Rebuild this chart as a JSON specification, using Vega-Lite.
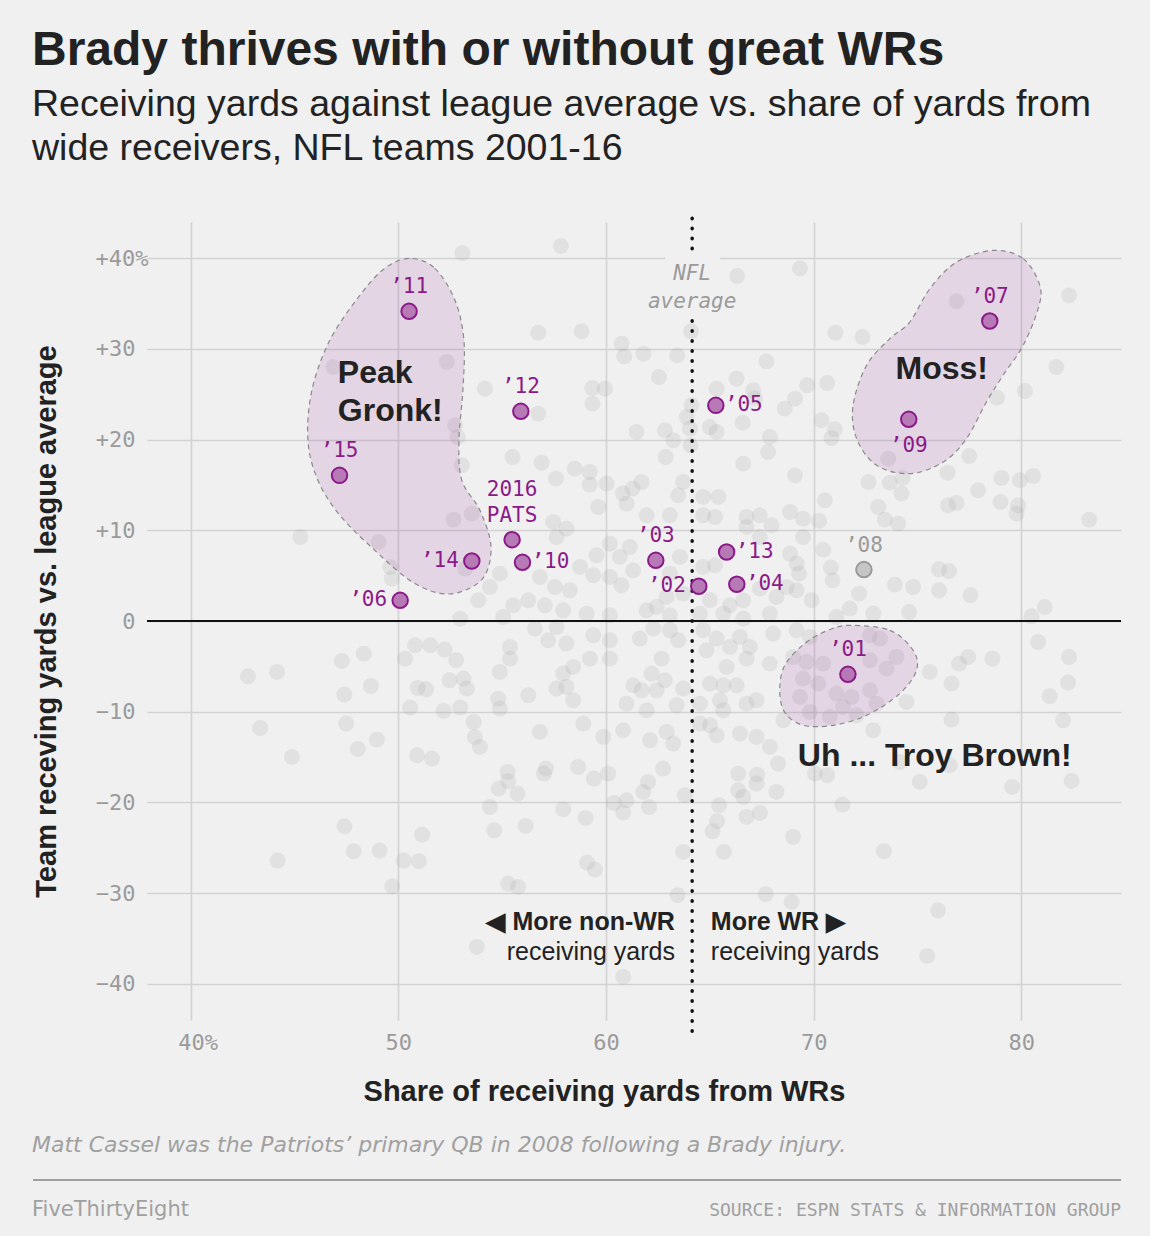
{
  "$schema": "https://vega.github.io/schema/vega-lite/v6.json",
  "background": "#f0f0f0",
  "autosize": {"type": "none"},
  "padding": {"left": 147, "top": 222, "right": 29, "bottom": 216},
  "width": 974,
  "height": 798,
  "config": {
    "view": {"stroke": null},
    "font": "Liberation Sans"
  },
  "title": {
    "text": "Brady thrives with or without great WRs",
    "subtitle": ["Receiving yards against league average vs. share of yards from", "wide receivers, NFL teams 2001-16"],
    "anchor": "start",
    "frame": "bounds",
    "font": "Liberation Sans",
    "fontSize": 48,
    "fontWeight": "bold",
    "color": "#222222",
    "subtitleFont": "Liberation Sans",
    "subtitleFontSize": 37.5,
    "subtitleColor": "#222222",
    "subtitlePadding": 11,
    "subtitleLineHeight": 44,
    "offset": 49
  },
  "datasets": {
    "pats": [
      {"season": 2001, "label": "’01", "share": 71.65, "diff": -5.88},
      {"season": 2002, "label": "’02", "share": 64.47, "diff": 3.83},
      {"season": 2003, "label": "’03", "share": 62.40, "diff": 6.69},
      {"season": 2004, "label": "’04", "share": 66.30, "diff": 4.05},
      {"season": 2005, "label": "’05", "share": 65.29, "diff": 23.78},
      {"season": 2006, "label": "’06", "share": 50.09, "diff": 2.28},
      {"season": 2007, "label": "’07", "share": 78.48, "diff": 33.08},
      {"season": 2008, "label": "’08", "share": 72.42, "diff": 5.67},
      {"season": 2009, "label": "’09", "share": 74.58, "diff": 22.24},
      {"season": 2010, "label": "’10", "share": 55.98, "diff": 6.47},
      {"season": 2011, "label": "’11", "share": 50.52, "diff": 34.15},
      {"season": 2012, "label": "’12", "share": 55.90, "diff": 23.12},
      {"season": 2013, "label": "’13", "share": 65.81, "diff": 7.61},
      {"season": 2014, "label": "’14", "share": 53.54, "diff": 6.62},
      {"season": 2015, "label": "’15", "share": 47.17, "diff": 16.06},
      {"season": 2016, "label": "2016 PATS", "share": 55.48, "diff": 8.97}
    ],
    "blobs": [
      {"blob": "gronk", "i": 1, "share": 50.56, "diff": 39.99},
      {"blob": "gronk", "i": 2, "share": 51.76, "diff": 38.89},
      {"blob": "gronk", "i": 3, "share": 52.73, "diff": 35.36},
      {"blob": "gronk", "i": 4, "share": 53.16, "diff": 30.95},
      {"blob": "gronk", "i": 5, "share": 53.11, "diff": 25.44},
      {"blob": "gronk", "i": 6, "share": 52.92, "diff": 19.92},
      {"blob": "gronk", "i": 7, "share": 53.06, "diff": 15.51},
      {"blob": "gronk", "i": 8, "share": 53.93, "diff": 12.21},
      {"blob": "gronk", "i": 9, "share": 54.46, "diff": 8.35},
      {"blob": "gronk", "i": 10, "share": 54.17, "diff": 5.04},
      {"blob": "gronk", "i": 11, "share": 53.21, "diff": 3.38},
      {"blob": "gronk", "i": 12, "share": 52.00, "diff": 3.05},
      {"blob": "gronk", "i": 13, "share": 50.56, "diff": 4.48},
      {"blob": "gronk", "i": 14, "share": 48.87, "diff": 7.79},
      {"blob": "gronk", "i": 15, "share": 47.19, "diff": 11.65},
      {"blob": "gronk", "i": 16, "share": 46.13, "diff": 15.51},
      {"blob": "gronk", "i": 17, "share": 45.65, "diff": 19.92},
      {"blob": "gronk", "i": 18, "share": 45.84, "diff": 25.44},
      {"blob": "gronk", "i": 19, "share": 46.70, "diff": 30.95},
      {"blob": "gronk", "i": 20, "share": 48.15, "diff": 35.91},
      {"blob": "gronk", "i": 21, "share": 49.35, "diff": 38.89},
      {"blob": "moss", "i": 1, "share": 78.64, "diff": 40.87},
      {"blob": "moss", "i": 2, "share": 80.09, "diff": 39.96},
      {"blob": "moss", "i": 3, "share": 80.89, "diff": 37.02},
      {"blob": "moss", "i": 4, "share": 80.81, "diff": 34.44},
      {"blob": "moss", "i": 5, "share": 80.09, "diff": 30.40},
      {"blob": "moss", "i": 6, "share": 79.12, "diff": 27.09},
      {"blob": "moss", "i": 7, "share": 78.32, "diff": 24.15},
      {"blob": "moss", "i": 8, "share": 77.36, "diff": 20.11},
      {"blob": "moss", "i": 9, "share": 76.24, "diff": 17.53},
      {"blob": "moss", "i": 10, "share": 74.63, "diff": 16.25},
      {"blob": "moss", "i": 11, "share": 73.03, "diff": 17.17},
      {"blob": "moss", "i": 12, "share": 72.07, "diff": 20.11},
      {"blob": "moss", "i": 13, "share": 71.90, "diff": 23.78},
      {"blob": "moss", "i": 14, "share": 72.55, "diff": 28.19},
      {"blob": "moss", "i": 15, "share": 73.67, "diff": 31.14},
      {"blob": "moss", "i": 16, "share": 74.63, "diff": 32.97},
      {"blob": "moss", "i": 17, "share": 75.60, "diff": 36.65},
      {"blob": "moss", "i": 18, "share": 76.88, "diff": 39.58},
      {"blob": "troy", "i": 1, "share": 71.74, "diff": -0.48},
      {"blob": "troy", "i": 2, "share": 73.67, "diff": -1.03},
      {"blob": "troy", "i": 3, "share": 74.79, "diff": -3.24},
      {"blob": "troy", "i": 4, "share": 74.95, "diff": -5.44},
      {"blob": "troy", "i": 5, "share": 74.15, "diff": -8.00},
      {"blob": "troy", "i": 6, "share": 72.55, "diff": -10.40},
      {"blob": "troy", "i": 7, "share": 70.94, "diff": -11.50},
      {"blob": "troy", "i": 8, "share": 69.49, "diff": -11.50},
      {"blob": "troy", "i": 9, "share": 68.61, "diff": -10.07},
      {"blob": "troy", "i": 10, "share": 68.37, "diff": -7.64},
      {"blob": "troy", "i": 11, "share": 68.61, "diff": -4.88},
      {"blob": "troy", "i": 12, "share": 69.58, "diff": -2.46},
      {"blob": "troy", "i": 13, "share": 70.68, "diff": -1.03}
    ],
    "others": [
      {"share":53.09,"diff":40.57},{"share":52.34,"diff":28.56},{"share":52.74,"diff":21.58},{"share":52.86,"diff":20.29},{"share":53.06,"diff":17.17},{"share":46.87,"diff":28.0},
      {"share":57.83,"diff":41.35},{"share":56.74,"diff":31.8},{"share":58.83,"diff":31.94},{"share":60.75,"diff":30.58},{"share":60.88,"diff":29.18},{"share":61.81,"diff":29.48},{"share":63.43,"diff":29.29},{"share":64.09,"diff":31.94},{"share":66.32,"diff":38.04},{"share":69.34,"diff":38.89},{"share":67.73,"diff":28.63},{"share":66.29,"diff":26.72},{"share":67.09,"diff":25.44},{"share":67.17,"diff":24.55},{"share":65.33,"diff":25.62},{"share":62.55,"diff":26.9},{"share":54.17,"diff":25.62},{"share":59.34,"diff":25.69},{"share":59.95,"diff":25.62},{"share":59.35,"diff":23.97},{"share":56.74,"diff":22.87},{"share":64.12,"diff":23.78},{"share":63.88,"diff":22.49},{"share":64.04,"diff":21.21},{"share":61.47,"diff":20.84},{"share":62.84,"diff":21.03},{"share":63.24,"diff":19.92},{"share":65.0,"diff":21.39},{"share":65.33,"diff":20.84},{"share":66.58,"diff":21.87},{"share":67.89,"diff":20.29},{"share":67.81,"diff":18.63},{"share":68.61,"diff":23.42},{"share":69.1,"diff":24.52},{"share":64.07,"diff":19.37},{"share":62.88,"diff":18.08},{"share":55.5,"diff":18.08},{"share":56.9,"diff":17.46},{"share":58.5,"diff":16.8},{"share":59.22,"diff":16.43},{"share":59.22,"diff":15.04},{"share":60.03,"diff":15.15},{"share":61.71,"diff":15.33},{"share":61.28,"diff":14.6},{"share":63.72,"diff":15.33},{"share":66.61,"diff":17.35},{"share":69.1,"diff":16.06},{"share":57.59,"diff":15.7},{"share":60.81,"diff":14.08},
      {"share":82.3,"diff":35.91},{"share":76.88,"diff":35.25},{"share":71.05,"diff":31.8},{"share":72.35,"diff":31.31},{"share":81.69,"diff":28.0},{"share":69.69,"diff":25.99},{"share":70.65,"diff":26.24},{"share":80.17,"diff":25.36},{"share":78.83,"diff":24.63},{"share":70.38,"diff":22.13},{"share":71.02,"diff":21.14},{"share":70.86,"diff":20.18},{"share":73.59,"diff":17.9},{"share":73.67,"diff":15.26},{"share":74.28,"diff":15.77},{"share":77.49,"diff":18.19},{"share":76.45,"diff":16.36},{"share":72.64,"diff":15.33},{"share":79.04,"diff":15.77},{"share":79.93,"diff":15.51},{"share":80.57,"diff":15.99},{"share":77.92,"diff":14.41},
      {"share":45.28,"diff":9.26},{"share":49.05,"diff":8.71},{"share":49.61,"diff":5.95},{"share":49.69,"diff":4.67},{"share":52.66,"diff":11.18},{"share":53.54,"diff":11.84},{"share":53.22,"diff":5.78},{"share":52.98,"diff":0.26},{"share":42.76,"diff":-6.1},{"share":44.16,"diff":-5.62},{"share":47.28,"diff":-4.41},{"share":48.34,"diff":-3.6},{"share":47.4,"diff":-8.11},{"share":48.68,"diff":-7.17},{"share":50.33,"diff":-4.15},{"share":50.81,"diff":-2.68},{"share":51.54,"diff":-2.68},{"share":52.23,"diff":-3.15},{"share":52.79,"diff":-4.33},{"share":52.47,"diff":-6.54},{"share":53.14,"diff":-6.35},{"share":53.3,"diff":-7.45},{"share":50.93,"diff":-7.39},{"share":51.34,"diff":-7.53},{"share":50.57,"diff":-9.55},{"share":52.18,"diff":-9.92},{"share":52.98,"diff":-9.55},{"share":53.63,"diff":-11.14},{"share":43.35,"diff":-11.8},{"share":47.49,"diff":-11.31},{"share":48.97,"diff":-13.08},{"share":48.05,"diff":-14.11},{"share":50.9,"diff":-14.81},{"share":51.62,"diff":-15.17},{"share":44.88,"diff":-14.99},{"share":53.69,"diff":-12.79},
      {"share":47.41,"diff":-22.64},{"share":47.85,"diff":-25.39},{"share":49.1,"diff":-25.31},{"share":44.19,"diff":-26.42},{"share":51.15,"diff":-23.55},{"share":50.26,"diff":-26.42},{"share":50.99,"diff":-26.49},{"share":49.71,"diff":-29.25},{"share":53.78,"diff":-35.94},
      {"share":55.26,"diff":-16.65},{"share":55.29,"diff":-17.67},{"share":54.84,"diff":-18.48},{"share":55.74,"diff":-19.03},{"share":57.11,"diff":-16.27},{"share":57.01,"diff":-16.83},{"share":58.66,"diff":-16.1},{"share":59.42,"diff":-17.38},{"share":60.11,"diff":-16.83},{"share":62.03,"diff":-17.75},{"share":61.79,"diff":-18.85},{"share":62.75,"diff":-16.27},{"share":63.8,"diff":-19.22},{"share":54.41,"diff":-20.51},{"share":54.62,"diff":-23.08},{"share":56.13,"diff":-22.6},{"share":57.94,"diff":-20.76},{"share":59.02,"diff":-21.72},{"share":60.38,"diff":-20.07},{"share":60.99,"diff":-19.77},{"share":60.83,"diff":-21.13},{"share":62.07,"diff":-20.51},{"share":59.09,"diff":-26.64},{"share":59.47,"diff":-27.41},{"share":55.29,"diff":-28.95},{"share":55.77,"diff":-29.33},{"share":63.72,"diff":-25.47},{"share":63.45,"diff":-30.24},{"share":60.83,"diff":-39.25},{"share":66.37,"diff":-16.83},{"share":67.28,"diff":-16.94},{"share":67.25,"diff":-17.93},{"share":68.29,"diff":-15.72},{"share":66.37,"diff":-18.67},{"share":66.61,"diff":-19.4},{"share":68.21,"diff":-18.85},{"share":65.45,"diff":-20.32},{"share":67.41,"diff":-21.17},{"share":66.77,"diff":-21.61},{"share":65.35,"diff":-22.08},{"share":65.13,"diff":-23.19},{"share":65.68,"diff":-25.47},{"share":69.01,"diff":-23.81},{"share":67.7,"diff":-30.13},{"share":68.94,"diff":-30.98},
      {"share":70.06,"diff":-16.83},{"share":70.65,"diff":-17.01},{"share":75.11,"diff":-17.75},{"share":79.56,"diff":-18.3},{"share":82.42,"diff":-17.64},{"share":71.39,"diff":-20.24},{"share":73.38,"diff":-25.39},{"share":75.99,"diff":-31.9},{"share":75.47,"diff":-36.94},{"share":74.15,"diff":-15.55},{"share":76.56,"diff":-15.91},
      {"share":70.54,"diff":13.31},{"share":73.11,"diff":12.57},{"share":74.07,"diff":10.74},{"share":73.43,"diff":11.18},{"share":74.23,"diff":14.05},{"share":76.48,"diff":12.76},{"share":76.88,"diff":13.01},{"share":79.0,"diff":13.12},{"share":79.77,"diff":11.84},{"share":79.85,"diff":12.76},{"share":83.27,"diff":11.18},{"share":69.49,"diff":11.29},{"share":70.26,"diff":11.03},{"share":70.46,"diff":7.87},{"share":69.49,"diff":9.26},{"share":69.18,"diff":6.33},{"share":69.3,"diff":5.23},{"share":70.83,"diff":5.89},{"share":70.91,"diff":4.49},{"share":69.18,"diff":3.38},{"share":69.9,"diff":2.28},{"share":71.74,"diff":1.37},{"share":72.87,"diff":0.82},{"share":72.19,"diff":3.02},{"share":73.91,"diff":4.01},{"share":74.79,"diff":3.75},{"share":76.04,"diff":3.38},{"share":76.04,"diff":5.7},{"share":76.52,"diff":5.51},{"share":77.55,"diff":2.83},{"share":74.6,"diff":0.99},{"share":80.49,"diff":0.52},{"share":81.13,"diff":1.54},{"share":71.1,"diff":0.44},{"share":69.18,"diff":-1.03},{"share":69.82,"diff":-1.76},{"share":72.71,"diff":-1.58},{"share":73.19,"diff":-1.94},{"share":73.99,"diff":-3.97},{"share":73.51,"diff":-5.25},{"share":72.71,"diff":-4.33},{"share":69.01,"diff":-3.97},{"share":69.66,"diff":-4.52},{"share":70.46,"diff":-4.7},{"share":69.49,"diff":-6.35},{"share":70.22,"diff":-6.9},{"share":69.34,"diff":-8.38},{"share":71.1,"diff":-8.0},{"share":71.83,"diff":-8.38},{"share":72.71,"diff":-7.64},{"share":73.03,"diff":-9.11},{"share":71.42,"diff":-9.48},{"share":69.82,"diff":-10.03},{"share":70.78,"diff":-10.58},{"share":72.07,"diff":-10.4},{"share":74.47,"diff":-8.93},{"share":75.59,"diff":-5.62},{"share":76.64,"diff":-6.9},{"share":77.44,"diff":-3.97},{"share":77.0,"diff":-4.7},{"share":78.61,"diff":-4.15},{"share":80.81,"diff":-2.32},{"share":82.3,"diff":-3.97},{"share":82.25,"diff":-6.79},{"share":81.37,"diff":-8.3},{"share":82.01,"diff":-10.95},{"share":76.64,"diff":-10.87},{"share":72.87,"diff":-12.05},
      {"share":60.99,"diff":12.94},{"share":59.63,"diff":12.57},{"share":61.96,"diff":11.65},{"share":63.08,"diff":11.65},{"share":63.48,"diff":13.86},{"share":64.68,"diff":13.68},{"share":65.41,"diff":13.68},{"share":65.25,"diff":11.47},{"share":64.68,"diff":11.65},{"share":66.77,"diff":11.47},{"share":67.41,"diff":11.65},{"share":67.97,"diff":10.55},{"share":68.86,"diff":12.02},{"share":67.41,"diff":9.26},{"share":66.77,"diff":10.37},{"share":57.46,"diff":10.92},{"share":58.1,"diff":10.18},{"share":57.62,"diff":9.26},{"share":60.19,"diff":8.53},{"share":59.55,"diff":7.24},{"share":60.67,"diff":7.06},{"share":61.15,"diff":8.16},{"share":59.39,"diff":5.04},{"share":60.19,"diff":4.85},{"share":60.75,"diff":3.94},{"share":61.31,"diff":5.59},{"share":63.08,"diff":5.22},{"share":63.56,"diff":7.06},{"share":63.72,"diff":3.02},{"share":62.92,"diff":2.65},{"share":62.44,"diff":1.55},{"share":65.01,"diff":2.28},{"share":65.97,"diff":1.73},{"share":66.61,"diff":2.28},{"share":67.41,"diff":3.57},{"share":68.21,"diff":2.65},{"share":68.7,"diff":3.75},{"share":68.86,"diff":7.43},{"share":64.68,"diff":5.96},{"share":65.25,"diff":6.14},{"share":54.89,"diff":5.22},{"share":54.41,"diff":3.75},{"share":55.54,"diff":1.73},{"share":56.26,"diff":2.28},{"share":57.06,"diff":1.73},{"share":57.94,"diff":1.18},{"share":58.26,"diff":3.38},{"share":57.54,"diff":3.75},{"share":53.85,"diff":2.28},{"share":55.05,"diff":0.44},{"share":59.07,"diff":0.81},{"share":60.19,"diff":0.63},{"share":61.96,"diff":1.18},{"share":63.08,"diff":0.63},{"share":64.52,"diff":0.81},{"share":65.65,"diff":0.81},{"share":66.61,"diff":0.26},{"share":67.89,"diff":0.81},{"share":58.75,"diff":5.96},{"share":56.82,"diff":4.85},
      {"share":56.58,"diff":-0.84},{"share":57.62,"diff":-0.66},{"share":57.22,"diff":-2.13},{"share":58.1,"diff":-2.49},{"share":59.39,"diff":-1.57},{"share":60.19,"diff":-2.13},{"share":59.23,"diff":-4.15},{"share":60.19,"diff":-4.15},{"share":58.42,"diff":-5.07},{"share":57.94,"diff":-5.8},{"share":57.62,"diff":-7.45},{"share":58.1,"diff":-7.27},{"share":58.42,"diff":-8.74},{"share":58.91,"diff":-11.31},{"share":55.38,"diff":-2.86},{"share":55.38,"diff":-4.15},{"share":54.89,"diff":-5.62},{"share":54.81,"diff":-8.56},{"share":54.89,"diff":-9.66},{"share":56.26,"diff":-8.19},{"share":53.93,"diff":-13.89},{"share":56.82,"diff":-12.23},{"share":61.63,"diff":-1.94},{"share":62.28,"diff":-0.84},{"share":63.08,"diff":-1.02},{"share":63.48,"diff":-2.13},{"share":62.68,"diff":-4.15},{"share":62.2,"diff":-5.8},{"share":62.84,"diff":-6.54},{"share":62.44,"diff":-7.64},{"share":61.31,"diff":-7.09},{"share":61.72,"diff":-7.64},{"share":60.99,"diff":-9.11},{"share":61.96,"diff":-9.84},{"share":63.72,"diff":-7.45},{"share":63.4,"diff":-9.29},{"share":60.83,"diff":-12.05},{"share":59.87,"diff":-12.78},{"share":62.12,"diff":-13.15},{"share":62.92,"diff":-12.23},{"share":63.24,"diff":-13.52},{"share":64.68,"diff":-1.02},{"share":65.33,"diff":-1.94},{"share":64.84,"diff":-3.23},{"share":65.97,"diff":-2.86},{"share":66.45,"diff":-1.76},{"share":66.93,"diff":-2.86},{"share":66.77,"diff":-4.15},{"share":65.81,"diff":-5.07},{"share":65.01,"diff":-6.9},{"share":65.65,"diff":-7.09},{"share":66.29,"diff":-7.09},{"share":65.49,"diff":-8.74},{"share":65.65,"diff":-9.84},{"share":66.77,"diff":-9.11},{"share":67.25,"diff":-8.74},{"share":67.89,"diff":-4.7},{"share":68.05,"diff":-1.39},{"share":68.54,"diff":-10.95},{"share":65.01,"diff":-11.5},{"share":64.52,"diff":-11.31},{"share":65.33,"diff":-12.6},{"share":66.45,"diff":-12.42},{"share":67.25,"diff":-12.78},{"share":67.89,"diff":-13.89},{"share":64.52,"diff":-9.11}
    ]
  },
  "layer": [
    {
      "data": {"name": "others"},
      "mark": {"type": "circle", "size": 255, "fill": "#999999", "fillOpacity": 0.17, "strokeWidth": 0},
      "encoding": {
        "x": {
          "field": "share",
          "type": "quantitative",
          "scale": {"domain": [37.9, 84.8], "nice": false, "zero": false},
          "axis": {
            "values": [40, 50, 60, 70, 80],
            "labelExpr": "datum.value == 40 ? '40%' : datum.label",
            "labelOffset": {"condition": {"test": "datum.value == 40", "value": 7}, "value": 0},
            "grid": true,
            "gridColor": "#d2d2d2",
            "gridWidth": 1.6,
            "domain": false,
            "ticks": false,
            "labelPadding": 12,
            "labelFont": "DejaVu Sans Mono",
            "labelFontSize": 22,
            "labelColor": "#9a9a9a",
            "title": "Share of receiving yards from WRs",
            "titleFont": "Liberation Sans",
            "titleFontSize": 29,
            "titleFontWeight": "bold",
            "titleColor": "#222222",
            "titlePadding": 24,
            "titleX": 457,
            "titleAlign": "center"
          }
        },
        "y": {
          "field": "diff",
          "type": "quantitative",
          "scale": {"domain": [-44, 44], "nice": false, "zero": false},
          "axis": {
            "values": [-40, -30, -20, -10, 0, 10, 20, 30, 40],
            "labelExpr": "datum.value > 0 ? '+' + datum.value + (datum.value == 40 ? '%' : '') : (datum.value < 0 ? '−' + abs(datum.value) : '0')",
            "labelPadding": {"condition": {"test": "datum.value == 40", "value": -1}, "value": 12},
            "grid": true,
            "gridColor": "#d2d2d2",
            "gridWidth": 1.6,
            "domain": false,
            "ticks": false,
            "labelFont": "DejaVu Sans Mono",
            "labelFontSize": 22,
            "labelColor": "#9a9a9a",
            "title": "Team receving yards vs. league average",
            "titleFont": "Liberation Sans",
            "titleFontSize": 29,
            "titleFontWeight": "bold",
            "titleColor": "#222222",
            "titleX": -86,
            "titleY": 399,
            "titleAlign": "center",
            "titleBaseline": "bottom"
          }
        }
      }
    },
    {
      "data": {"values": [{}]},
      "mark": {"type": "rect", "fill": "#f0f0f0"},
      "encoding": {
        "x": {"datum": 62.85, "type": "quantitative"},
        "x2": {"datum": 65.5},
        "y": {"datum": 41.6, "type": "quantitative"},
        "y2": {"datum": 38.7}
      }
    },
    {
      "data": {"values": [{}]},
      "mark": {"type": "rule", "color": "#111111", "strokeWidth": 2},
      "encoding": {"y": {"datum": 0, "type": "quantitative"}}
    },
    {
      "data": {"name": "blobs"},
      "mark": {"type": "line", "interpolate": "cardinal-closed", "fill": "#8b1a89", "fillOpacity": 0.12, "stroke": "#8a8a8a", "strokeDash": [5, 4], "strokeWidth": 1.2},
      "encoding": {
        "x": {"field": "share", "type": "quantitative"},
        "y": {"field": "diff", "type": "quantitative"},
        "detail": {"field": "blob", "type": "nominal"},
        "order": {"field": "i", "type": "quantitative"}
      }
    },
    {
      "data": {"values": [{}]},
      "mark": {"type": "rule", "color": "#111111", "strokeWidth": 3.5, "strokeCap": "round", "strokeDash": [0.5, 9.5], "clip": false},
      "encoding": {"x": {"datum": 64.15, "type": "quantitative"}, "y": {"datum": 44.4, "type": "quantitative"}, "y2": {"datum": 40.6}}
    },
    {
      "data": {"values": [{}]},
      "mark": {"type": "rule", "color": "#111111", "strokeWidth": 3.5, "strokeCap": "round", "strokeDash": [0.5, 9.5], "clip": false},
      "encoding": {"x": {"datum": 64.15, "type": "quantitative"}, "y": {"datum": 33.1, "type": "quantitative"}, "y2": {"datum": -45.3}}
    },
    {
      "data": {"values": [{}]},
      "mark": {"type": "text", "font": "DejaVu Sans Mono", "fontStyle": "italic", "fontSize": 21, "color": "#9a9a9a", "align": "center", "baseline": "alphabetic", "lineHeight": 28},
      "encoding": {"x": {"datum": 64.15, "type": "quantitative"}, "y": {"datum": 37.6, "type": "quantitative"}, "text": {"value": ["NFL", "average"]}}
    },
    {
      "data": {"name": "pats"},
      "mark": {"type": "circle", "size": 240, "strokeWidth": 2, "opacity": 1},
      "encoding": {
        "x": {"field": "share", "type": "quantitative"},
        "y": {"field": "diff", "type": "quantitative"},
        "fill": {"condition": {"test": "datum.season == 2008", "value": "#c6c6c6"}, "value": "#b87ab7"},
        "stroke": {"condition": {"test": "datum.season == 2008", "value": "#9a9a9a"}, "value": "#8b1a89"}
      }
    },
    {
      "data": {"name": "pats"},
      "transform": [{"filter": {"field": "season", "oneOf": [2001, 2003, 2007, 2008, 2011, 2012, 2015]}}],
      "mark": {"type": "text", "font": "DejaVu Sans Mono", "fontSize": 21, "align": "center", "baseline": "alphabetic", "dy": -18},
      "encoding": {
        "x": {"field": "share", "type": "quantitative"},
        "y": {"field": "diff", "type": "quantitative"},
        "text": {"field": "label", "type": "nominal"},
        "color": {"condition": {"test": "datum.season == 2008", "value": "#9a9a9a"}, "value": "#8b1a89"}
      }
    },
    {
      "data": {"name": "pats"},
      "transform": [{"filter": {"field": "season", "oneOf": [2002, 2006, 2014]}}],
      "mark": {"type": "text", "font": "DejaVu Sans Mono", "fontSize": 21, "align": "right", "baseline": "middle", "dx": -13, "color": "#8b1a89"},
      "encoding": {
        "x": {"field": "share", "type": "quantitative"},
        "y": {"field": "diff", "type": "quantitative"},
        "text": {"field": "label", "type": "nominal"}
      }
    },
    {
      "data": {"name": "pats"},
      "transform": [{"filter": {"field": "season", "oneOf": [2004, 2005, 2010, 2013]}}],
      "mark": {"type": "text", "font": "DejaVu Sans Mono", "fontSize": 21, "align": "left", "baseline": "middle", "dx": 9, "color": "#8b1a89"},
      "encoding": {
        "x": {"field": "share", "type": "quantitative"},
        "y": {"field": "diff", "type": "quantitative"},
        "text": {"field": "label", "type": "nominal"}
      }
    },
    {
      "data": {"name": "pats"},
      "transform": [{"filter": {"field": "season", "oneOf": [2009]}}],
      "mark": {"type": "text", "font": "DejaVu Sans Mono", "fontSize": 21, "align": "center", "baseline": "alphabetic", "dy": 33, "color": "#8b1a89"},
      "encoding": {
        "x": {"field": "share", "type": "quantitative"},
        "y": {"field": "diff", "type": "quantitative"},
        "text": {"field": "label", "type": "nominal"}
      }
    },
    {
      "data": {"name": "pats"},
      "transform": [{"filter": {"field": "season", "oneOf": [2016]}}],
      "mark": {"type": "text", "font": "DejaVu Sans Mono", "fontSize": 21, "align": "center", "baseline": "alphabetic", "dy": -44, "lineBreak": " ", "lineHeight": 26, "color": "#8b1a89"},
      "encoding": {
        "x": {"field": "share", "type": "quantitative"},
        "y": {"field": "diff", "type": "quantitative"},
        "text": {"field": "label", "type": "nominal"}
      }
    },
    {
      "data": {"values": [{}]},
      "mark": {"type": "text", "fontSize": 32, "fontWeight": "bold", "color": "#222222", "align": "left", "baseline": "alphabetic", "lineHeight": 38},
      "encoding": {"x": {"datum": 47.09, "type": "quantitative"}, "y": {"datum": 26.3, "type": "quantitative"}, "text": {"value": ["Peak", "Gronk!"]}}
    },
    {
      "data": {"values": [{}]},
      "mark": {"type": "text", "fontSize": 32, "fontWeight": "bold", "color": "#222222", "align": "center", "baseline": "alphabetic"},
      "encoding": {"x": {"datum": 76.17, "type": "quantitative"}, "y": {"datum": 26.74, "type": "quantitative"}, "text": {"value": "Moss!"}}
    },
    {
      "data": {"values": [{}]},
      "mark": {"type": "text", "fontSize": 32, "fontWeight": "bold", "color": "#222222", "align": "left", "baseline": "alphabetic"},
      "encoding": {"x": {"datum": 69.24, "type": "quantitative"}, "y": {"datum": -16.0, "type": "quantitative"}, "text": {"value": "Uh ... Troy Brown!"}}
    },
    {
      "data": {"values": [{}]},
      "mark": {"type": "text", "fontSize": 25, "fontWeight": "bold", "color": "#222222", "align": "right", "baseline": "alphabetic"},
      "encoding": {"x": {"datum": 63.32, "type": "quantitative"}, "y": {"datum": -34.1, "type": "quantitative"}, "text": {"value": "◀ More non-WR"}}
    },
    {
      "data": {"values": [{}]},
      "mark": {"type": "text", "fontSize": 25, "color": "#222222", "align": "right", "baseline": "alphabetic"},
      "encoding": {"x": {"datum": 63.32, "type": "quantitative"}, "y": {"datum": -37.4, "type": "quantitative"}, "text": {"value": "receiving yards"}}
    },
    {
      "data": {"values": [{}]},
      "mark": {"type": "text", "fontSize": 25, "fontWeight": "bold", "color": "#222222", "align": "left", "baseline": "alphabetic"},
      "encoding": {"x": {"datum": 65.05, "type": "quantitative"}, "y": {"datum": -34.1, "type": "quantitative"}, "text": {"value": "More WR ▶"}}
    },
    {
      "data": {"values": [{}]},
      "mark": {"type": "text", "fontSize": 25, "color": "#222222", "align": "left", "baseline": "alphabetic"},
      "encoding": {"x": {"datum": 65.05, "type": "quantitative"}, "y": {"datum": -37.4, "type": "quantitative"}, "text": {"value": "receiving yards"}}
    },
    {
      "data": {"values": [{}]},
      "mark": {"type": "text", "font": "DejaVu Sans", "fontSize": 22, "fontStyle": "italic", "color": "#a0a0a0", "align": "left", "baseline": "alphabetic"},
      "encoding": {"x": {"value": -115}, "y": {"value": 930}, "text": {"value": "Matt Cassel was the Patriots’ primary QB in 2008 following a Brady injury."}}
    },
    {
      "data": {"values": [{}]},
      "mark": {"type": "rule", "color": "#a0a0a0", "strokeWidth": 2},
      "encoding": {"x": {"value": -114}, "x2": {"value": "width"}, "y": {"value": 958}}
    },
    {
      "data": {"values": [{}]},
      "mark": {"type": "text", "font": "DejaVu Sans", "fontSize": 21, "color": "#a0a0a0", "align": "left", "baseline": "alphabetic"},
      "encoding": {"x": {"value": -115}, "y": {"value": 994}, "text": {"value": "FiveThirtyEight"}}
    },
    {
      "data": {"values": [{}]},
      "mark": {"type": "text", "font": "DejaVu Sans Mono", "fontSize": 18, "color": "#a0a0a0", "align": "right", "baseline": "alphabetic"},
      "encoding": {"x": {"value": "width"}, "y": {"value": 994}, "text": {"value": "SOURCE: ESPN STATS & INFORMATION GROUP"}}
    }
  ]
}
